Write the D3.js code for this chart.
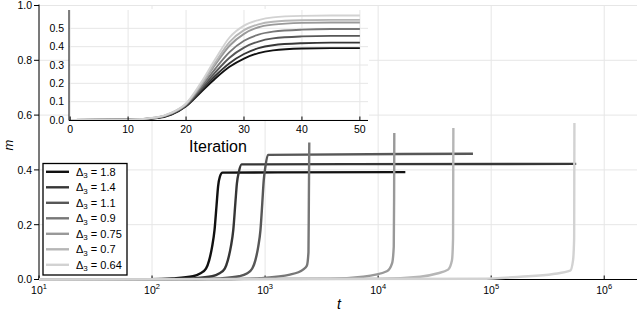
<!DOCTYPE html>
<html>
<head>
<meta charset="utf-8">
<script src="https://cdn.jsdelivr.net/npm/d3@7"></script>
<style>
  body { margin: 0; background: #fff; }
  svg { display: block; font-family: "Liberation Sans", Arial, sans-serif; }
</style>
</head>
<body>
<div id="chart"></div>
<script>
// legend labels and colours, darkest first
const deltas = ["1.8", "1.4", "1.1", "0.9", "0.75", "0.7", "0.64"];
const colors = ["#111111", "#363636", "#575757", "#777777", "#999999", "#b6b6b6", "#d2d2d2"];

// main panel: m(t), one time/value list per curve
const mainTimes = [
  [10, 96, 153, 230, 266, 300, 320, 340, 357, 372, 384, 398, 420, 17400],
  [10, 141, 225, 340, 392, 440, 468, 498, 523, 546, 563, 588, 620, 565000],
  [10, 250, 390, 590, 690, 770, 820, 870, 910, 945, 972, 1005, 1060, 69000],
  [10, 490, 900, 1660, 2170, 2340, 2420, 2440, 2460],
  [10, 3760, 7360, 11940, 13300, 13750, 13850, 13900],
  [10, 10400, 23500, 33200, 41600, 45000, 46000, 46150, 46300],
  [10, 80000, 181000, 354000, 500000, 530000, 542000, 543500, 545000]
];
const mainValues = [
  [0, 0.001, 0.004, 0.012, 0.022, 0.04, 0.07, 0.12, 0.18, 0.27, 0.34, 0.375, 0.39, 0.392],
  [0, 0.001, 0.004, 0.012, 0.022, 0.04, 0.07, 0.12, 0.18, 0.28, 0.35, 0.395, 0.42, 0.422],
  [0, 0.001, 0.004, 0.012, 0.022, 0.04, 0.07, 0.12, 0.18, 0.28, 0.36, 0.41, 0.455, 0.459],
  [0, 0.001, 0.005, 0.018, 0.036, 0.05, 0.1, 0.3, 0.5],
  [0, 0.003, 0.01, 0.03, 0.06, 0.12, 0.3, 0.535],
  [0, 0.003, 0.01, 0.022, 0.036, 0.07, 0.15, 0.35, 0.553],
  [0, 0.003, 0.01, 0.02, 0.032, 0.07, 0.15, 0.35, 0.571]
];
const mainXTicks = [1, 2, 3, 4, 5, 6];          // powers of ten
const mainYTicks = [0, 0.2, 0.4, 0.6, 0.8, 1.0];

// inset: m vs iteration
const iterations = [0, 10, 15, 17.5, 20, 22.5, 25, 27.5, 30, 32.5, 35, 40, 45, 50];
const insetValues = [
  [0, 0.001, 0.010, 0.030, 0.075, 0.150, 0.225, 0.290, 0.335, 0.365, 0.380, 0.390, 0.392, 0.392],
  [0, 0.001, 0.011, 0.032, 0.077, 0.158, 0.240, 0.310, 0.360, 0.392, 0.408, 0.419, 0.422, 0.422],
  [0, 0.001, 0.012, 0.034, 0.080, 0.166, 0.258, 0.340, 0.395, 0.428, 0.445, 0.456, 0.459, 0.459],
  [0, 0.001, 0.013, 0.036, 0.083, 0.175, 0.278, 0.370, 0.432, 0.466, 0.482, 0.493, 0.496, 0.496],
  [0, 0.002, 0.014, 0.038, 0.086, 0.185, 0.300, 0.405, 0.470, 0.506, 0.520, 0.530, 0.532, 0.532],
  [0, 0.002, 0.014, 0.039, 0.088, 0.190, 0.312, 0.425, 0.490, 0.522, 0.536, 0.544, 0.546, 0.546],
  [0, 0.002, 0.015, 0.040, 0.090, 0.200, 0.330, 0.450, 0.515, 0.545, 0.560, 0.568, 0.570, 0.570]
];
const insetXTicks = [0, 10, 20, 30, 40, 50];
const insetYTicks = [0, 0.1, 0.2, 0.3, 0.4, 0.5];

const width = 640, height = 311;
const gridColor = "#e6e6e6";

const svg = d3.select("#chart").append("svg")
  .attr("width", width)
  .attr("height", height);

// ---- main panel ----
const x = d3.scaleLog().domain([10, Math.pow(10, 6.29)]).range([39, 637]);
const y = d3.scaleLinear().domain([0, 1]).range([279.5, 5.5]);

const grid = svg.append("g");
mainXTicks.forEach(p => {
  grid.append("line")
    .attr("x1", x(Math.pow(10, p))).attr("x2", x(Math.pow(10, p)))
    .attr("y1", y(1)).attr("y2", y(0))
    .style("stroke", gridColor).style("stroke-width", 1);
});
mainYTicks.forEach(v => {
  grid.append("line")
    .attr("x1", x.range()[0]).attr("x2", x.range()[1])
    .attr("y1", y(v)).attr("y2", y(v))
    .style("stroke", gridColor).style("stroke-width", 1);
});

const mainLine = d3.line()
  .x(d => x(d[0]))
  .y(d => y(d[1]))
  .curve(d3.curveMonotoneX);

const axes = svg.append("g");
axes.append("line")
  .attr("x1", 39).attr("x2", 39).attr("y1", y(1) - 1).attr("y2", y(0))
  .style("stroke", "#000").style("stroke-width", 1);
axes.append("line")
  .attr("x1", 39).attr("x2", x.range()[1]).attr("y1", y(0)).attr("y2", y(0))
  .style("stroke", "#000").style("stroke-width", 1);

mainYTicks.forEach(v => {
  axes.append("line")
    .attr("x1", 34).attr("x2", 39).attr("y1", y(v)).attr("y2", y(v))
    .style("stroke", "#000");
  axes.append("text")
    .attr("x", 32).attr("y", y(v) + 3.8)
    .attr("text-anchor", "end")
    .style("font-size", "10.5px")
    .text(v.toFixed(1));
});
mainXTicks.forEach(p => {
  const px = x(Math.pow(10, p));
  axes.append("line")
    .attr("x1", px).attr("x2", px).attr("y1", y(0)).attr("y2", y(0) - 4)
    .style("stroke", "#000");
  const t = axes.append("text")
    .attr("x", px).attr("y", 293.5)
    .attr("text-anchor", "middle")
    .style("font-size", "10.5px");
  t.append("tspan").text("10");
  t.append("tspan").attr("dy", -4.5).style("font-size", "7.5px").text(p);
});

svg.append("text")
  .attr("transform", "translate(13,145) rotate(-90)")
  .attr("text-anchor", "middle")
  .style("font-size", "13px").style("font-style", "italic")
  .text("m");
svg.append("text")
  .attr("x", 339).attr("y", 309)
  .attr("text-anchor", "middle")
  .style("font-size", "14px").style("font-style", "italic")
  .text("t");

const curves = svg.append("g");
deltas.forEach((dl, i) => {
  const pts = mainTimes[i].map((t, j) => [t, mainValues[i][j]]);
  curves.append("path")
    .datum(pts)
    .attr("d", mainLine)
    .style("fill", "none")
    .style("stroke", colors[i])
    .style("stroke-width", 2.4);
});

// legend
const legend = svg.append("g");
legend.append("rect")
  .attr("x", 43).attr("y", 163.5).attr("width", 84).attr("height", 111.5)
  .style("fill", "#fff").style("stroke", "#000").style("stroke-width", 1.3);
deltas.forEach((dl, i) => {
  const ly = 171.8 + i * 15.5;
  legend.append("line")
    .attr("x1", 46).attr("x2", 69).attr("y1", ly).attr("y2", ly)
    .style("stroke", colors[i]).style("stroke-width", 2.4);
  const t = legend.append("text")
    .attr("x", 76).attr("y", ly + 4)
    .style("font-size", "11px");
  t.append("tspan").text("\u0394");
  t.append("tspan").attr("dy", 2.5).style("font-size", "8px").text("3");
  t.append("tspan").attr("dy", -2.5).text(" = " + dl);
});

// ---- inset ----
const xi = d3.scaleLinear().domain([-0.2, 51.4]).range([69, 368]);
const yi = d3.scaleLinear().domain([0, 0.6]).range([120, 10]);

const inset = svg.append("g");
inset.append("rect")
  .attr("x", 69).attr("y", 9).attr("width", 300).attr("height", 111)
  .style("fill", "#fff");

insetXTicks.forEach(v => {
  inset.append("line")
    .attr("x1", xi(v)).attr("x2", xi(v)).attr("y1", yi(0.6)).attr("y2", yi(0))
    .style("stroke", gridColor).style("stroke-width", 1);
});
insetYTicks.forEach(v => {
  inset.append("line")
    .attr("x1", 69).attr("x2", 368).attr("y1", yi(v)).attr("y2", yi(v))
    .style("stroke", gridColor).style("stroke-width", 1);
});

const insetLine = d3.line()
  .x(d => xi(d[0]))
  .y(d => yi(d[1]))
  .curve(d3.curveMonotoneX);

deltas.forEach((dl, i) => {
  const pts = iterations.map((it, j) => [it, insetValues[i][j]]);
  inset.append("path")
    .datum(pts)
    .attr("d", insetLine)
    .style("fill", "none")
    .style("stroke", colors[i])
    .style("stroke-width", 1.9);
});

inset.append("line")
  .attr("x1", 69).attr("x2", 69).attr("y1", 10).attr("y2", 120.5)
  .style("stroke", "#000");
inset.append("line")
  .attr("x1", 69).attr("x2", 368).attr("y1", 120.5).attr("y2", 120.5)
  .style("stroke", "#000");

insetYTicks.forEach(v => {
  inset.append("text")
    .attr("x", 64).attr("y", yi(v) + 3.8)
    .attr("text-anchor", "end")
    .style("font-size", "10.5px")
    .text(v.toFixed(1));
});
insetXTicks.forEach(v => {
  inset.append("line")
    .attr("x1", xi(v)).attr("x2", xi(v)).attr("y1", 120.5).attr("y2", 116.5)
    .style("stroke", "#000");
  inset.append("text")
    .attr("x", xi(v)).attr("y", 132.5)
    .attr("text-anchor", "middle")
    .style("font-size", "10.5px")
    .text(v);
});
inset.append("text")
  .attr("x", 218).attr("y", 151.5)
  .attr("text-anchor", "middle")
  .style("font-size", "16px")
  .text("Iteration");
</script>
</body>
</html>
